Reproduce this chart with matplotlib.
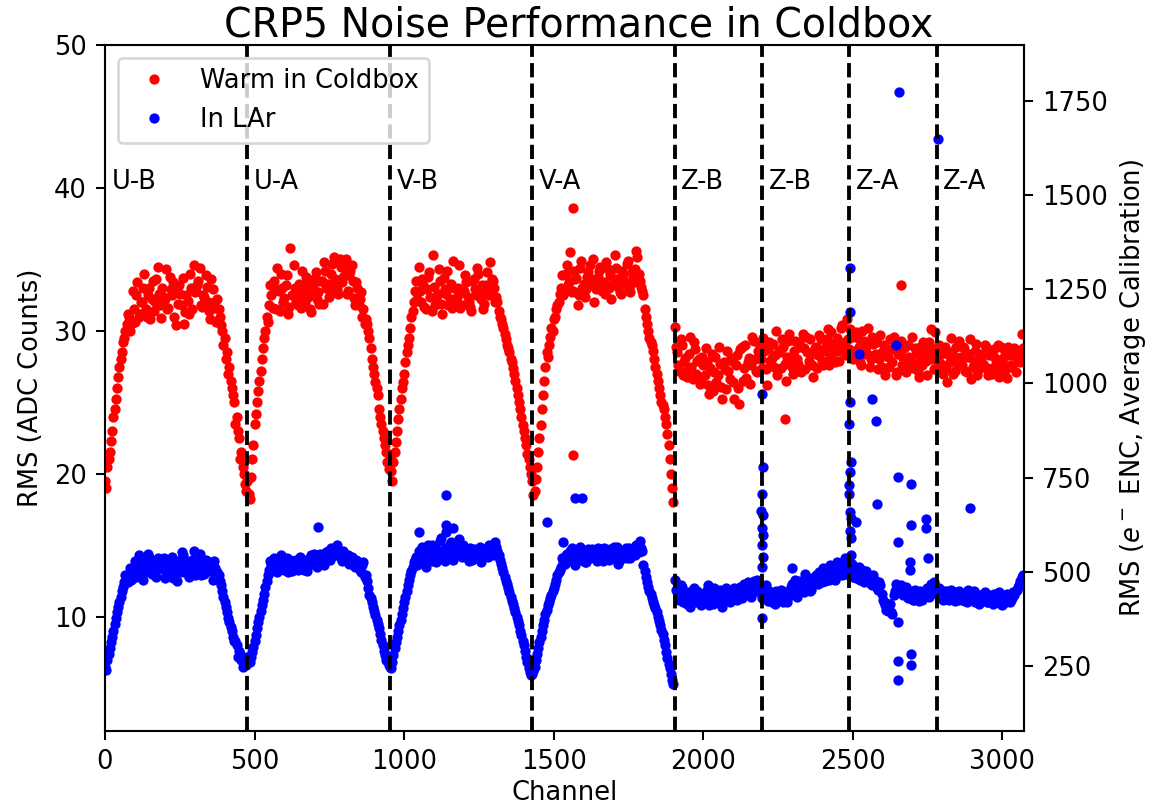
import numpy as np
import matplotlib
matplotlib.use("Agg")
import matplotlib.pyplot as plt

# ---------------- data ----------------
STEP = 8  # channel spacing of each sampled list; the "_b" lists sit half a step later
plane_names = ["U-B", "U-A", "V-B", "V-A", "Z-B", "Z-B", "Z-A", "Z-A"]
plane_starts = [0, 476, 952, 1428, 1904, 2196, 2488, 2780]
boundaries = [476, 952, 1428, 1904, 2196, 2488, 2780]
group_starts = [0, 476, 952, 1428, 1904]
ADC_TO_E = 38.0

# Warm in Coldbox (ADC RMS)
warm_ub = [19.5, 20.5, 21.5, 23.0, 24.5, 26.0, 27.5, 28.5, 29.5, 30.5, 31.0, 30.5,
           31.5, 32.5, 31.0, 32.0, 33.0, 31.5, 32.5, 30.8, 33.5, 32.0, 34.5, 31.8,
           33.0, 32.2, 31.5, 33.8, 32.5, 31.0, 32.8, 33.2, 31.8, 30.5, 32.5, 31.2,
           33.0, 34.6, 32.8, 33.5, 31.8, 32.5, 33.9, 32.0, 30.8, 32.9, 31.6, 32.2,
           31.0, 30.0, 29.5, 28.5, 27.5, 26.0, 25.0, 24.0, 22.5, 21.5, 20.0, 18.8]
warm_ub_b = [19.0, 21.0, 22.3, 24.0, 25.2, 26.8, 28.0, 29.2, 30.0, 31.2, 30.0,
             32.8, 30.6, 33.4, 31.2, 32.0, 34.0, 31.0, 33.0, 32.2, 31.4, 33.6, 32.6,
             30.9, 32.4, 34.3, 31.6, 32.9, 33.4, 30.4, 31.9, 32.6, 33.7, 31.3, 32.1,
             34.0, 31.5, 32.7, 33.2, 34.4, 31.7, 32.4, 33.1, 31.4, 33.6, 32.0, 30.6,
             31.5, 30.4, 29.0, 28.0, 27.0, 26.5, 25.5, 23.5, 23.0, 21.0, 20.5, 19.3]
warm_ua = [19.5, 18.2, 21.0, 23.5, 25.0, 26.5, 28.0, 29.5, 31.0, 31.8,
           32.5, 33.5, 31.5, 32.8, 34.0, 32.0, 33.2, 31.2, 35.8, 32.5,
           33.0, 31.8, 32.6, 34.2, 32.0, 33.4, 31.5, 32.8, 33.6, 32.2,
           31.9, 33.5, 34.8, 33.0, 32.4, 34.0, 35.2, 33.2, 32.6, 34.5,
           33.8, 35.0, 32.8, 34.2, 33.5, 31.8, 33.0, 32.2, 31.0, 30.5,
           30.5, 29.5, 28.0, 27.0, 26.0, 24.5, 23.5, 22.5, 21.5, 20.3]
warm_ua_b = [18.6, 19.8, 22.0, 24.2, 25.8, 27.2, 28.8, 30.0, 30.6,
             33.2, 31.6, 32.9, 34.4, 31.4, 33.0, 32.3, 33.9, 31.7, 32.5,
             34.6, 32.1, 33.3, 31.6, 32.9, 33.8, 32.4, 31.3, 33.1, 34.1,
             32.7, 33.5, 31.9, 34.2, 33.3, 32.8, 34.7, 33.6, 32.9, 35.0,
             33.4, 34.4, 32.6, 33.9, 34.6, 32.3, 33.4, 31.8, 32.7, 31.5,
             30.8, 30.0, 28.8, 27.5, 26.4, 25.5, 24.0, 23.0, 22.0, 20.8]
warm_vb = [21.0, 19.5, 21.5, 23.0, 24.5, 26.0, 27.0, 28.5, 29.5, 31.0, 32.0, 33.5,
           34.5, 32.0, 33.2, 31.5, 33.8, 32.4, 35.3, 31.8, 32.6, 33.5, 31.2, 32.9,
           34.2, 32.2, 31.6, 33.0, 32.4, 34.6, 31.8, 32.8, 33.4, 32.0, 31.4, 33.6,
           32.5, 34.0, 32.2, 31.5, 33.2, 32.8, 34.8, 33.5, 32.0,
           32.0, 31.0, 30.5, 29.8, 29.0, 28.5, 27.8, 27.0, 26.0, 25.0, 24.0, 23.0,
           22.0, 21.0, 20.0]
warm_vb_b = [20.2, 20.8, 22.2, 23.8, 25.2, 26.4, 27.8, 29.0, 30.2, 31.4, 32.8, 32.2,
             32.8, 33.6, 31.7, 32.9, 34.1, 31.4, 33.1, 32.3, 34.3, 31.9, 33.7, 32.6,
             31.8, 33.3, 34.9, 32.1, 33.0, 31.6, 32.7, 33.9, 32.4, 31.7, 33.5, 32.9,
             34.4, 32.6, 33.2, 31.9, 34.1, 32.5, 33.6, 33.0,
             32.4, 31.4, 30.8, 30.2, 29.4, 28.8, 28.0, 27.4, 26.5, 25.5, 24.5, 23.4,
             22.5, 21.4, 20.5]
warm_va = [19.5, 18.8, 20.5, 22.5, 24.5, 26.5, 28.5, 29.0, 30.2, 30.8, 31.5, 32.0, 33.0,
           32.5, 34.0, 33.2, 35.5, 32.8, 33.6, 31.8, 34.4, 33.0, 32.4, 33.8, 34.6,
           33.2, 32.0, 33.5, 34.2, 32.8, 33.4, 34.8, 33.0, 32.2, 33.6, 34.4, 33.1,
           32.6, 34.0, 33.3, 34.9, 32.7, 33.8, 34.3, 35.2, 33.5, 32.8,
           31.5, 30.5, 29.5, 29.0, 28.0, 27.0, 26.0, 25.0, 24.5, 23.5, 22.0, 20.0, 18.0]
warm_va_b = [18.5, 19.6, 21.5, 23.4, 25.5, 27.5, 28.2, 29.6, 30.0, 31.0, 31.8, 32.6,
             33.9, 32.9, 34.6, 33.4, 32.7, 34.2, 33.7, 32.5, 34.9, 33.3, 32.9, 34.1,
             33.6, 35.0, 32.9, 33.8, 34.5, 33.1, 32.6, 34.3, 33.9, 33.2, 35.3, 33.6,
             32.7, 34.2, 33.5, 34.7, 33.0, 34.1, 33.4, 35.6, 34.0, 33.1,
             32.5, 31.0, 30.0, 29.2, 28.6, 27.5, 26.5, 25.5, 24.8, 24.0, 22.8, 21.0, 19.0]
warm_z = [30.3, 28.5, 27.2, 29.0, 27.8, 26.8, 28.4, 27.5, 29.2, 27.0, 28.0, 26.5,
          27.6, 28.8, 26.2, 27.4, 25.8, 28.2, 26.9, 27.7, 25.2, 27.3, 28.6, 26.6,
          27.9, 25.2, 28.3, 24.9, 28.9, 27.4, 26.7, 28.1, 27.6, 29.3, 27.2, 28.6,
          28.0, 29.5, 27.3, 28.7, 27.9, 29.1, 28.3, 26.9, 28.5, 29.4, 27.7, 28.2,
          29.8, 27.5, 28.6, 28.0, 29.2, 27.1, 28.8, 29.6, 27.9, 28.4, 26.8, 28.9,
          28.3, 29.4, 27.6, 28.8, 30.1, 28.2, 29.0, 27.8, 29.5, 28.6, 30.4, 29.2,
          30.8, 28.7, 29.6, 28.1, 29.9, 28.9, 27.6, 29.3, 28.5, 30.2, 28.0, 29.1,
          28.4, 27.3, 29.7, 28.6, 26.9, 28.2, 29.4, 27.8, 28.9, 27.1, 28.5, 27.6,
          28.8, 27.4, 28.2, 29.6, 27.7, 28.4, 26.8, 28.1, 29.2, 27.9, 28.6, 30.1,
          28.7, 29.9, 27.5, 28.3, 27.0, 28.9, 26.4, 27.8, 28.5, 27.2, 28.1, 29.3,
          27.6, 28.8, 27.1, 28.4, 26.6, 27.9, 29.1, 27.3, 28.2, 27.7, 28.9, 26.9,
          28.5, 27.4, 28.1, 29.0, 27.2, 27.8, 28.6, 26.7, 28.3, 27.5, 28.8, 27.9,
          28.4, 29.8]
warm_z_b = [28.9, 27.6, 29.4, 26.9, 28.1, 27.3, 29.6, 26.6, 28.7, 27.9, 26.3, 28.2,
            26.9, 27.8, 25.6, 28.4, 27.1, 26.4, 28.9, 26.1, 27.8, 25.9, 27.2, 28.1,
            26.4, 27.6, 26.0, 28.7, 26.5, 29.0, 27.8, 26.3, 29.6, 28.0, 27.1, 29.0,
            27.4, 28.6, 26.2, 29.2, 28.1, 27.5, 30.0, 28.6, 27.4, 28.9, 26.5, 29.3,
            28.1, 27.0, 29.3, 27.7, 28.9, 29.8, 27.3, 28.5, 29.4, 27.6, 28.8, 27.4,
            29.7, 27.9, 28.6, 29.4, 27.6, 29.9, 28.5, 29.2, 27.9, 30.2, 28.8, 28.3,
            29.4, 30.1, 28.0, 28.6, 29.5, 27.8, 30.0, 28.4, 29.0, 27.5, 29.6, 28.3,
            29.2, 28.0, 27.5, 29.0, 28.3, 27.5, 28.7, 29.6, 26.9, 28.4, 29.3, 28.1,
            27.1, 29.0, 28.0, 27.4, 28.8, 27.2, 28.9, 27.6, 28.4, 26.9, 29.2, 28.0,
            27.3, 28.4, 29.0, 27.7, 28.6, 27.4, 28.3, 29.5, 27.0, 28.9, 27.7, 28.2,
            28.9, 27.2, 28.2, 29.4, 27.5, 28.6, 26.9, 28.4, 27.6, 29.0, 27.4, 28.3,
            27.0, 28.7, 27.7, 26.8, 28.9, 28.2, 27.3, 28.9, 27.6, 28.6, 27.1, 28.2,
            27.8, 28.8]

# In LAr (ADC RMS)
lar_ub = [6.5, 7.0, 7.8, 8.6, 9.5, 10.3, 11.0, 11.8, 12.4, 12.8, 13.0, 12.6,
          13.2, 12.8, 14.3, 13.5, 12.6, 13.9, 14.4, 13.1, 13.7, 12.9, 14.1, 13.4,
          13.6, 12.7, 13.8, 13.0, 14.2, 13.3, 12.5, 13.7, 14.5, 13.1, 13.9, 12.8,
          13.5, 14.6, 13.2, 13.8, 12.9, 13.6, 14.0, 13.3, 13.7, 12.6, 13.4, 13.1,
          12.5, 11.8, 11.0, 10.3, 9.6, 9.0, 8.3, 8.0, 7.6, 7.0, 6.8, 6.6]
lar_ub_b = [6.3, 7.4, 8.2, 9.0, 9.9, 10.7, 11.4, 12.1, 12.9, 12.4, 13.4,
            12.7, 13.9, 13.3, 14.0, 12.9, 13.5, 13.2, 14.2, 13.0, 13.6, 12.8, 13.9,
            13.4, 14.1, 12.9, 13.5, 13.8, 12.7, 13.4, 13.9, 13.1, 14.3, 13.5, 13.0,
            13.8, 14.0, 12.9, 13.4, 14.4, 13.6, 13.0, 13.9, 13.2, 13.6, 13.9, 12.8,
            12.9, 12.2, 11.4, 10.7, 9.9, 9.3, 8.6, 8.3, 7.2, 7.4, 6.5, 6.9]
lar_ua = [7.2, 6.8, 7.5, 8.3, 9.2, 10.0, 10.8, 11.6, 12.5, 13.3,
          13.6, 14.1, 13.2, 13.9, 14.3, 13.4, 13.8, 13.1, 14.0, 13.5,
          13.9, 13.3, 14.2, 13.6, 13.8, 13.2, 14.1, 13.7, 14.4, 13.5,
          13.9, 14.2, 13.6, 14.5, 14.1, 14.8, 14.3, 14.9, 14.4, 14.1,
          14.6, 13.9, 14.3, 13.8, 14.0, 13.5, 13.9, 13.3, 13.6, 12.8,
          12.5, 11.5, 11.0, 10.4, 9.8, 9.2, 8.4, 7.6, 7.0, 6.6]
lar_ua_b = [6.9, 7.2, 7.9, 8.7, 9.6, 10.4, 11.2, 12.1, 12.9,
            13.9, 13.4, 13.7, 13.1, 14.0, 13.6, 13.3, 14.1, 13.6, 13.2,
            13.8, 14.0, 13.5, 13.9, 13.3, 14.0, 13.6, 14.3, 13.8, 14.1,
            13.6, 14.4, 13.9, 14.2, 14.6, 14.0, 14.7, 14.3, 15.0, 14.5,
            13.9, 14.4, 14.1, 13.7, 14.2, 13.6, 14.0, 13.4, 13.1, 13.8,
            12.9, 12.0, 11.3, 10.7, 10.1, 9.5, 8.8, 8.0, 7.3, 6.9]
lar_vb = [6.5, 6.8, 7.8, 8.6, 9.4, 10.2, 11.0, 11.8, 12.6, 13.2, 13.8, 14.2,
          14.6, 13.8, 14.2, 13.5, 15.0, 14.4, 13.9, 14.8, 14.1, 15.3, 14.5, 13.9,
          14.7, 15.1, 14.3, 14.9, 14.6, 15.4, 14.2, 14.8, 14.5, 13.9, 14.4, 14.7,
          14.1, 14.5, 13.8, 14.3, 14.6, 14.2, 14.9, 14.4, 15.2,
          14.6, 14.0, 13.4, 12.8, 12.3, 11.7, 11.1, 10.6, 10.0, 9.4, 8.7, 8.0,
          7.2, 6.4, 5.9]
lar_vb_b = [6.4, 7.3, 8.2, 9.0, 9.8, 10.6, 11.4, 12.2, 12.9, 13.5, 14.0, 13.6,
            14.3, 14.9, 13.7, 14.5, 14.1, 15.0, 14.3, 13.8, 14.6, 15.5, 14.1, 14.8,
            14.4, 15.2, 14.0, 14.6, 14.9, 14.3, 15.0, 14.6, 14.2, 14.8, 14.0, 14.6,
            14.3, 14.9, 14.1, 14.7, 14.4, 15.0, 14.6, 14.3,
            14.9, 14.3, 13.7, 13.1, 12.5, 12.0, 11.4, 10.9, 10.3, 9.7, 9.0, 8.3,
            7.6, 6.8, 6.1]
lar_va = [6.0, 6.5, 7.4, 8.2, 9.0, 9.8, 10.5, 11.0, 11.5, 12.0, 12.6, 13.1, 13.5,
          13.8, 14.3, 13.9, 14.6, 14.1, 13.6, 14.4, 14.9, 14.2, 13.8, 14.5, 14.1,
          14.7, 14.3, 13.9, 14.6, 14.2, 14.8, 14.4, 14.0, 14.5, 14.9, 14.3, 13.7,
          14.6, 14.2, 14.8, 14.4, 14.1, 14.7, 14.3, 14.9, 15.3, 14.6,
          13.2, 12.4, 11.8, 11.3, 10.8, 10.3, 9.7, 9.1, 8.4, 7.5, 6.7, 6.0, 5.3]
lar_va_b = [6.2, 7.0, 7.8, 8.6, 9.4, 10.2, 10.8, 11.3, 11.8, 12.3, 12.9, 13.3,
            14.1, 13.7, 14.4, 14.0, 14.8, 13.9, 14.3, 14.6, 14.0, 14.4, 13.8, 14.7,
            14.2, 14.5, 14.1, 14.8, 14.4, 13.9, 14.6, 14.2, 14.7, 14.1, 14.5, 14.9,
            14.0, 14.4, 14.6, 14.1, 14.8, 14.4, 14.6, 15.0, 14.5, 14.8,
            13.6, 12.8, 12.1, 11.6, 11.0, 10.6, 10.0, 9.4, 8.8, 8.0, 7.1, 6.4, 5.6]
lar_z = [12.6, 11.8, 11.2, 12.1, 11.4, 10.9, 11.7, 11.3, 12.0, 11.0, 11.5, 10.8,
         11.6, 11.1, 12.2, 11.4, 10.9, 11.7, 11.2, 11.9, 10.7, 11.3, 11.8, 11.0,
         11.5, 12.0, 11.2, 11.7, 11.3, 12.3, 11.6, 12.1, 11.4, 12.5, 11.8, 12.2,
         11.9, 11.5, 12.2, 11.1, 11.7, 11.3, 10.9, 11.6, 11.2, 11.8, 11.4, 11.0,
         11.6, 12.3, 11.9, 11.4, 12.5, 12.0, 11.7, 12.8, 12.2, 11.9, 12.6, 12.9,
         12.3, 12.7, 13.4, 12.5, 12.9, 13.6, 12.8, 12.6, 13.8, 13.2, 12.9, 14.1,
         13.4, 12.9, 13.7, 13.1, 12.7, 13.5, 12.9, 12.4, 13.2, 12.8, 12.3, 12.9,
         12.5, 11.9, 12.2, 11.2, 10.8, 10.4, 10.9, 10.2, 11.8, 12.1, 11.7, 12.0,
         11.6, 11.9, 11.4, 11.8, 11.2, 11.5, 11.1, 11.7, 11.3, 11.6, 11.9, 12.3,
         11.8, 12.1, 11.5, 11.9, 11.2, 11.6, 11.8, 11.3, 11.7, 11.1, 11.4, 11.8,
         11.2, 11.6, 11.0, 11.5, 11.3, 11.8, 11.1, 10.9, 11.4, 11.2, 11.6, 11.0,
         11.3, 10.9, 11.5, 11.1, 11.4, 10.8, 11.2, 11.6, 11.0, 11.3, 11.5, 11.9,
         12.2, 12.8]
lar_z_b = [11.9, 11.4, 12.2, 11.0, 11.6, 11.2, 10.7, 11.9, 11.4, 11.8, 11.1, 11.6,
           11.3, 11.9, 10.8, 11.5, 12.0, 11.1, 11.6, 11.0, 11.5, 12.0, 11.3, 11.7,
           11.9, 11.3, 11.8, 12.1, 11.5, 11.9, 12.4, 11.7, 12.2, 11.9, 12.6, 11.7,
           11.3, 12.0, 11.4, 11.8, 11.0, 11.5, 11.8, 11.2, 11.9, 11.0, 11.7, 11.4,
           12.1, 11.7, 12.6, 12.2, 11.8, 12.4, 13.0, 12.1, 11.8, 12.7, 12.3, 12.5,
           13.1, 12.4, 12.8, 13.3, 12.6, 13.0, 13.5, 13.2, 12.9, 13.7, 13.4, 13.0,
           13.9, 13.2, 12.8, 13.4, 13.0, 12.6, 13.3, 12.9, 12.5, 12.8, 12.2, 12.6,
           12.0, 12.4, 11.6, 11.0, 10.5, 10.9, 10.3, 11.5, 12.3, 11.8, 12.2, 11.5,
           12.1, 11.3, 11.7, 11.2, 11.9, 11.4, 11.8, 11.2, 11.5, 12.0, 11.4, 11.9,
           12.4, 11.6, 12.0, 11.4, 11.8, 11.5, 11.2, 11.9, 11.4, 11.7, 11.2, 11.6,
           11.5, 11.1, 11.9, 11.2, 11.7, 11.0, 11.6, 11.3, 11.1, 11.7, 11.0, 11.5,
           11.0, 11.6, 11.2, 11.7, 10.9, 11.5, 11.0, 11.4, 11.2, 11.7, 11.8, 12.1,
           12.5, 12.9]

# Isolated outlier channels
warm_out_ch = [1563, 1563, 2272, 2660]
warm_out_val = [38.6, 21.3, 23.8, 33.2]
lar_out_ch = [711, 1049, 1140, 1140, 1140, 1164, 1476, 1530, 1571, 1594,
              2196, 2198, 2196, 2192, 2200, 2196, 2198, 2196, 2198, 2196, 2196, 2296,
              2490, 2490, 2520, 2490, 2488, 2494, 2492, 2488, 2488, 2490, 2494, 2510,
              2490, 2494, 2494,
              2563, 2576, 2580, 2643, 2653, 2650, 2693, 2693, 2650, 2690, 2690, 2650,
              2650, 2650, 2693, 2693, 2745, 2745, 2750, 2783, 2890]
lar_out_val = [16.3, 15.9, 18.5, 16.4, 15.9, 16.2, 16.6, 15.2, 18.3, 18.3,
               25.6, 20.5, 18.6, 17.4, 17.1, 16.2, 15.7, 15.0, 14.2, 13.5, 9.9, 13.4,
               34.4, 31.3, 28.4, 25.0, 23.5, 20.8, 20.1, 19.2, 18.6, 17.3, 16.9, 16.6,
               16.0, 15.5, 14.3,
               25.2, 23.7, 17.9, 29.0, 46.7, 19.8, 19.3, 16.4, 15.2, 13.8, 13.3, 9.6,
               6.9, 5.6, 7.4, 6.6, 16.8, 16.2, 14.1, 43.4, 17.6]

warm_groups = [warm_ub, warm_ua, warm_vb, warm_va, warm_z]
warm_groups_b = [warm_ub_b, warm_ua_b, warm_vb_b, warm_va_b, warm_z_b]
lar_groups = [lar_ub, lar_ua, lar_vb, lar_va, lar_z]
lar_groups_b = [lar_ub_b, lar_ua_b, lar_vb_b, lar_va_b, lar_z_b]


def assemble(groups, groups_b, out_ch, out_val):
    ch, val = [], []
    for offset, grp in ((0, groups), (STEP // 2, groups_b)):
        for start, vals in zip(group_starts, grp):
            ch.append(start + offset + STEP * np.arange(len(vals)))
            val.append(np.asarray(vals, dtype=float))
    ch.append(np.asarray(out_ch, dtype=float))
    val.append(np.asarray(out_val, dtype=float))
    ch = np.concatenate(ch)
    val = np.concatenate(val)
    order = np.argsort(ch, kind="stable")
    return ch[order], val[order]


warm_ch, warm_val = assemble(warm_groups, warm_groups_b, warm_out_ch, warm_out_val)
lar_ch, lar_val = assemble(lar_groups, lar_groups_b, lar_out_ch, lar_out_val)

# ---------------- figure ----------------
DPI = 185
fig = plt.figure(figsize=(1149 / DPI, 809 / DPI), dpi=DPI)
ax = fig.add_axes([105 / 1149, 1 - 731 / 809, (1024 - 105) / 1149, (731 - 45) / 809])

ax.plot(warm_ch, warm_val, ".", color="red", label="Warm in Coldbox")
ax.plot(lar_ch, lar_val, ".", color="blue", label="In LAr")

for b in boundaries:
    ax.axvline(b, color="black", linestyle="--", linewidth=1.5)

for name, start in zip(plane_names, plane_starts):
    ax.text(start + 22, 40.4, name, fontsize=10, ha="left", va="center")

ax.set_xlim(0, 3072)
ax.set_ylim(2, 50)
ax.set_xlabel("Channel", fontsize=10, labelpad=2)
ax.set_ylabel("RMS (ADC Counts)", fontsize=10)
ax.set_title("CRP5 Noise Performance in Coldbox", fontsize=15.4, pad=3, x=0.515)
ax.legend(loc="upper left", fontsize=10)

ax2 = ax.twinx()
lo, hi = ax.get_ylim()
ax2.set_ylim(lo * ADC_TO_E, hi * ADC_TO_E)
ax2.set_yticks([250, 500, 750, 1000, 1250, 1500, 1750])
ax2.set_ylabel("RMS ($e^-$ ENC, Average Calibration)", fontsize=10)

fig.savefig("out.png", dpi=DPI)
